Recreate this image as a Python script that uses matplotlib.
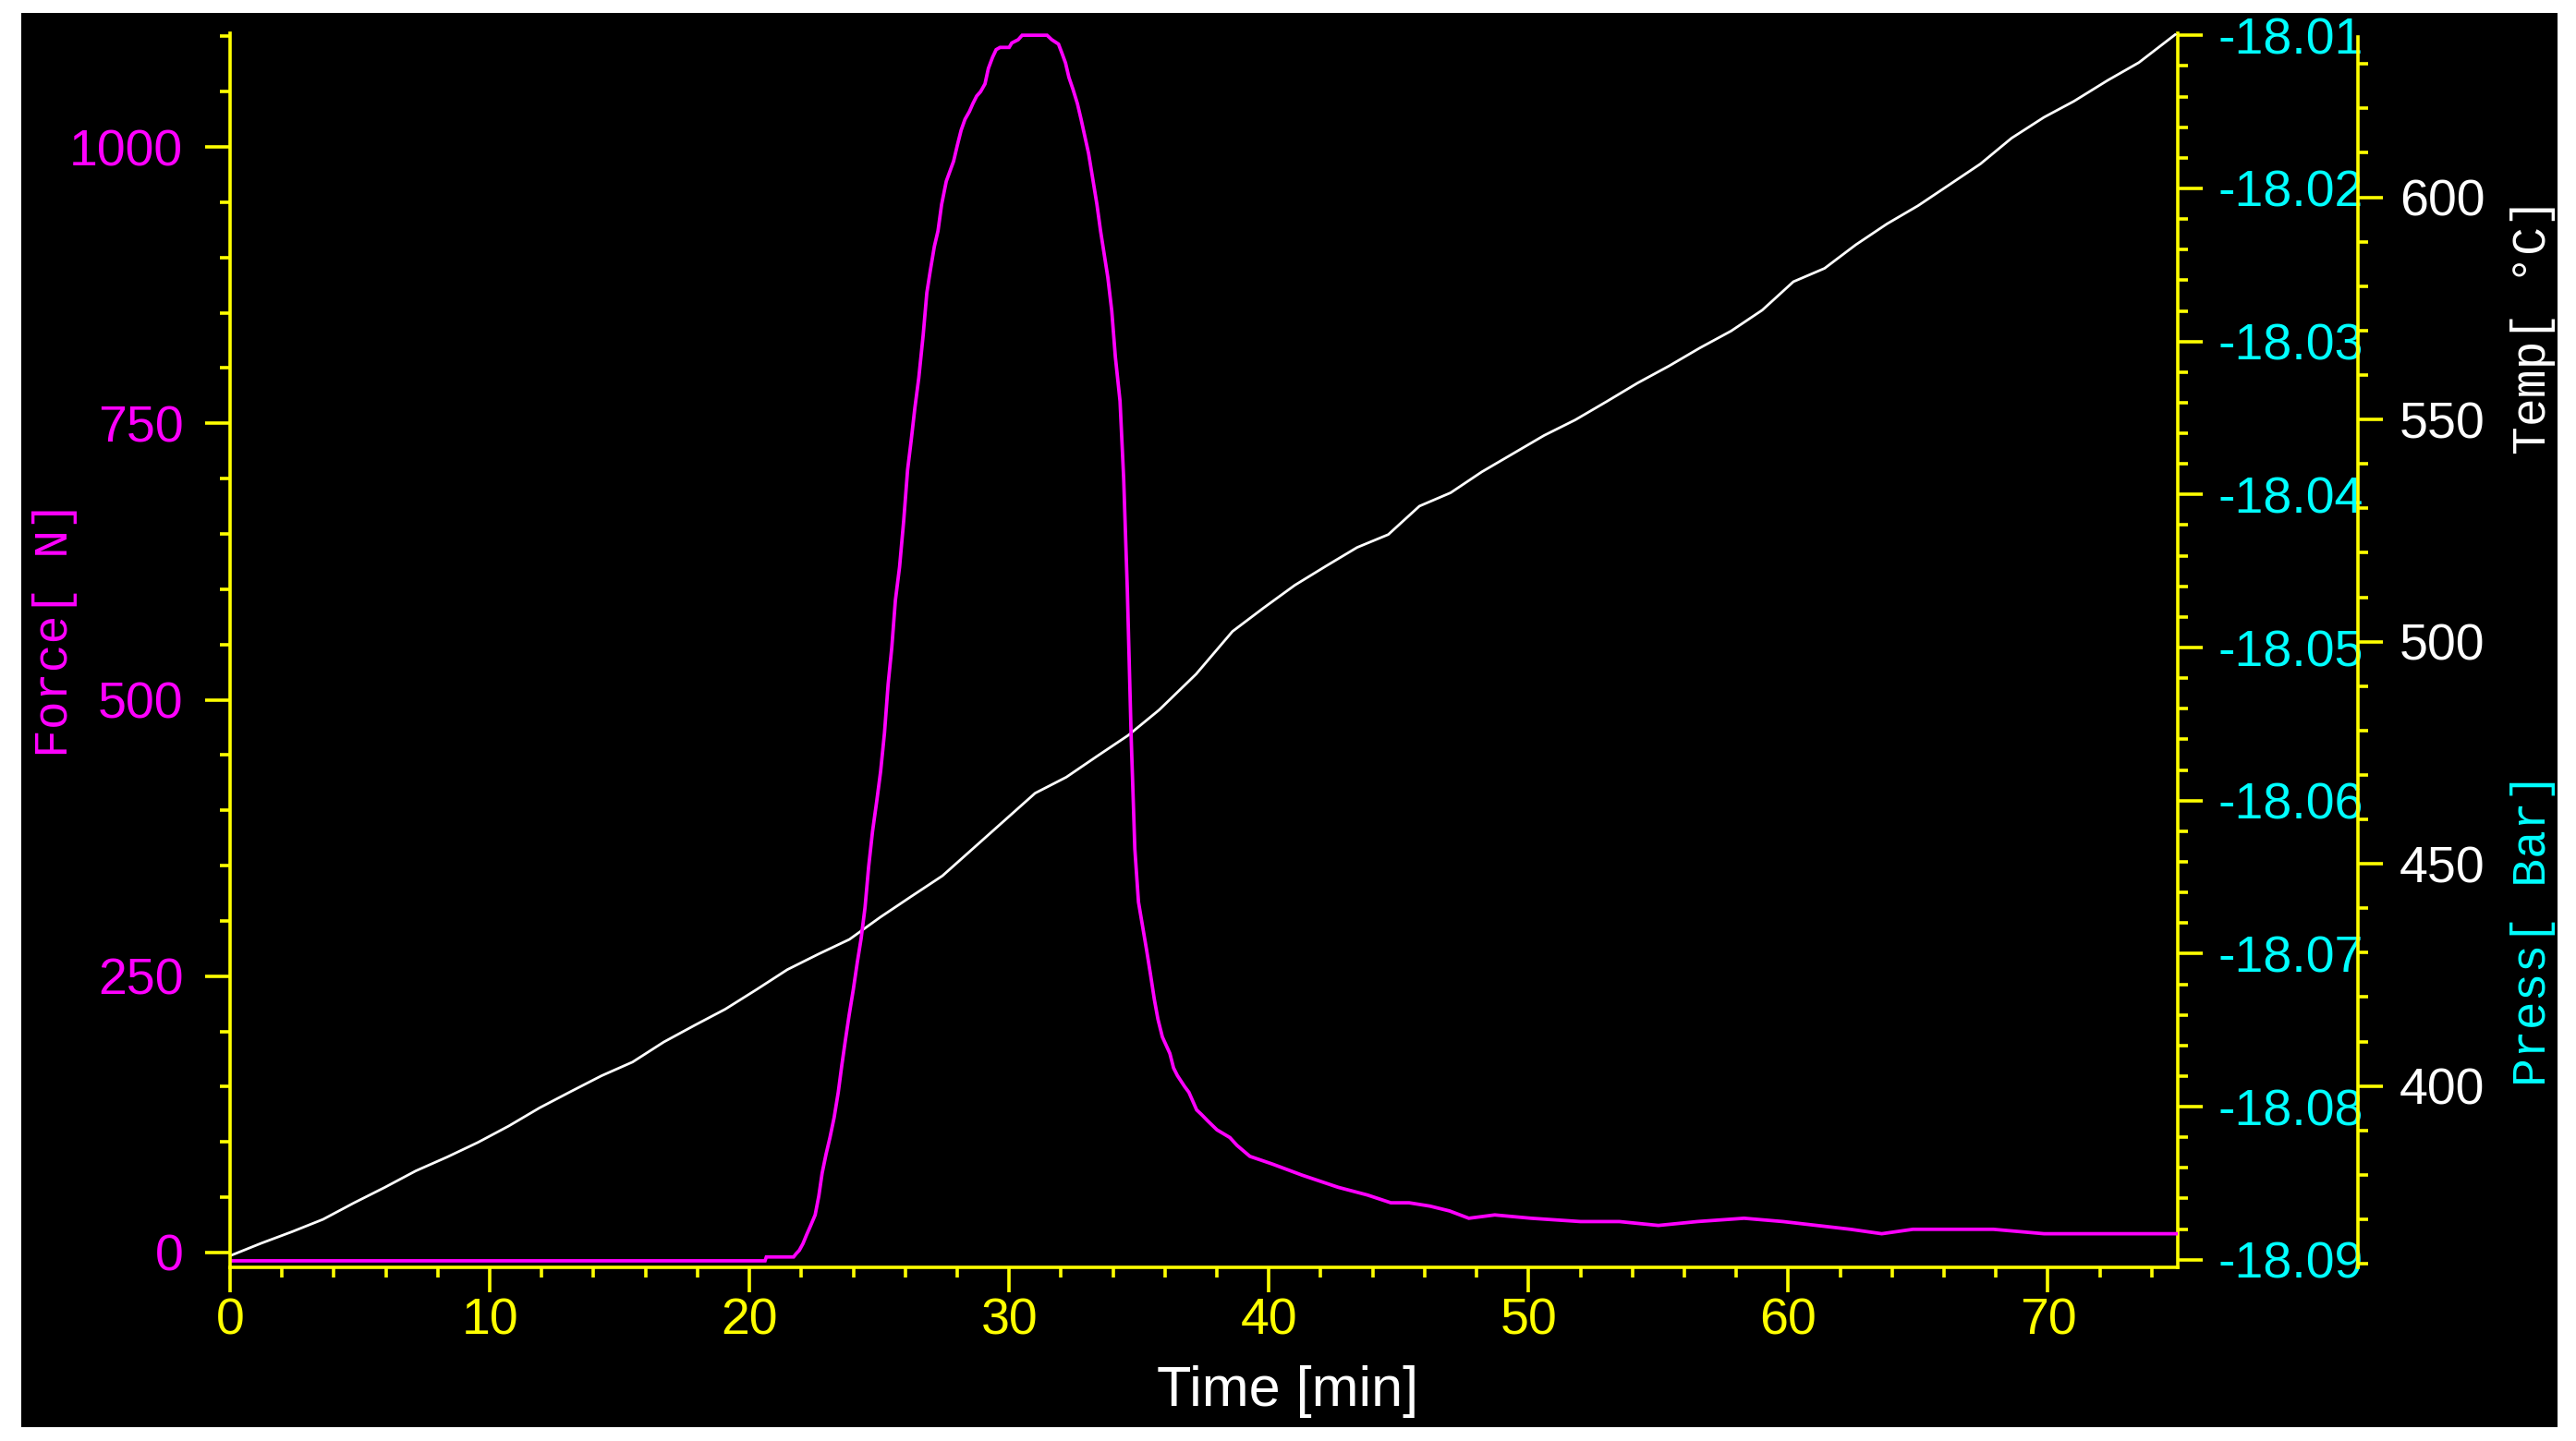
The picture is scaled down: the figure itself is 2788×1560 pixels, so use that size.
import matplotlib
matplotlib.use("Agg")
import matplotlib.pyplot as plt
from matplotlib import font_manager
from matplotlib.patches import Rectangle
from matplotlib.ticker import MultipleLocator, FormatStrFormatter

plt.rcParams['axes.unicode_minus'] = False

names = {f.name for f in font_manager.fontManager.ttflist}
tick_font = 'Liberation Sans Narrow' if 'Liberation Sans Narrow' in names else 'Liberation Sans'

# force curve, time [min] / force [N]
force_t = [0, 20.6, 20.65, 21.7, 21.8, 21.92, 22.06, 22.2, 22.35, 22.53, 22.67, 22.8,
           22.95, 23.1, 23.26, 23.42, 23.56, 23.7, 23.84, 24.0, 24.15, 24.3, 24.45, 24.59,
           24.74, 24.9, 25.05, 25.2, 25.34, 25.48, 25.62, 25.78, 25.94, 26.09, 26.23, 26.37,
           26.52, 26.69, 26.83, 26.97, 27.12, 27.26, 27.4, 27.58, 27.86, 28.0, 28.15, 28.3,
           28.47, 28.6, 28.75, 28.9, 29.07, 29.2, 29.36, 29.5, 29.65, 30.0, 30.1, 30.35,
           30.5, 31.46, 31.64, 31.9, 32.03, 32.17, 32.3, 32.46, 32.63, 32.77, 32.92, 33.06,
           33.2, 33.38, 33.52, 33.66, 33.8, 33.95, 34.09, 34.27, 34.41, 34.55, 34.7, 34.84,
           34.98, 35.14, 35.29, 35.44, 35.59, 35.73, 35.9, 36.19, 36.33, 36.48, 36.62, 36.76,
           36.92, 37.07, 37.22, 37.4, 37.65, 38.0, 38.5, 38.77, 39.27, 40.14, 41.28, 42.67,
           43.8, 44.7, 45.4, 46.2, 46.96, 47.7, 48.7, 50.1, 52.0, 53.5, 55.0, 56.5,
           58.3, 59.8, 61.1, 62.4, 63.6, 64.8, 67.9, 69.85, 75.0]
force_n = [-7.5, -7.5, -4, -4, -1, 2, 8, 16, 24, 34, 51, 72,
           89, 104, 122, 145, 170, 193, 215, 238, 262, 284, 312, 349,
           381, 408, 435, 470, 514, 547, 590, 620, 662, 708, 735, 764,
           791, 830, 868, 889, 910, 924, 948, 969, 987, 1001, 1015, 1025,
           1032, 1039, 1046, 1050, 1057, 1071, 1081, 1088, 1090, 1090, 1094, 1097,
           1101, 1101, 1097, 1093, 1085, 1076, 1063, 1052, 1039, 1025, 1009, 994,
           974, 948, 924, 903, 882, 852, 810, 770, 700, 600, 465, 365,
           317, 295, 274, 252, 229, 211, 195, 180, 167, 160, 155, 150,
           145, 137, 129, 125, 119, 111, 104, 97, 87, 80, 70, 59,
           52, 45, 45, 42, 37.6, 31, 34, 31, 28, 28, 24.5, 28,
           31, 28, 24.5, 21, 17, 21, 21, 17, 17]

# temperature curve, time [min] / temp [C]
temp_t = [0, 1.19, 2.38, 3.58, 4.77, 5.96, 7.15, 8.35, 9.54, 10.73, 11.92, 13.1,
          14.3, 15.5, 16.7, 17.9, 19.07, 20.27, 21.46, 22.66, 23.85, 25.04, 26.24, 27.43,
          28.62, 29.81, 31.0, 32.2, 33.38, 34.58, 35.77, 37.2, 38.6, 39.8, 41.0, 42.2,
          43.4, 44.6, 45.8, 47.0, 48.2, 49.4, 50.6, 51.8, 53.0, 54.2, 55.4, 56.6,
          57.8, 59.0, 60.2, 61.4, 62.6, 63.8, 65.0, 66.2, 67.4, 68.6, 69.85, 71.0,
          72.3, 73.5, 74.9]
temp_c = [361.8, 364.6, 367.2, 370.0, 373.7, 377.2, 380.9, 384.0, 387.3, 391.0, 395.1, 398.7,
          402.3, 405.4, 409.9, 413.7, 417.3, 421.7, 426.2, 429.7, 433.0, 438.0, 442.7, 447.3,
          453.5, 459.7, 465.9, 469.5, 474.2, 478.9, 484.6, 492.7, 502.3, 507.6, 512.7, 517.0,
          521.2, 524.1, 530.5, 533.5, 538.2, 542.3, 546.4, 549.9, 554.0, 558.2, 562.0, 566.1,
          569.9, 574.6, 581.0, 584.0, 589.3, 594.0, 598.1, 602.8, 607.5, 613.3, 618.0, 621.6,
          626.3, 630.3, 636.6]

time_ticks = [0, 10, 20, 30, 40, 50, 60, 70]
force_ticks = [0, 250, 500, 750, 1000]
press_ticks = [-18.09, -18.08, -18.07, -18.06, -18.05, -18.04, -18.03, -18.02, -18.01]
temp_ticks = [400, 450, 500, 550, 600]

YEL = '#FFFF00'
MAG = '#FF00FF'
CYA = '#00FFFF'
WHT = '#FFFFFF'

fig = plt.figure(figsize=(27.88, 15.6), dpi=100, facecolor='white')
fig.patches.append(Rectangle((23 / 2788, 15 / 1560), 2745 / 2788, 1531 / 1560,
                             transform=fig.transFigure, facecolor='black',
                             edgecolor='none', zorder=-10))

ax = fig.add_axes([249 / 2788, 1 - 1372 / 1560, 2108 / 2788, 1336 / 1560])
ax_p = ax.twinx()
ax_t = ax.twinx()
for a in (ax, ax_p, ax_t):
    a.patch.set_visible(False)
    for s in a.spines.values():
        s.set_visible(False)
        s.set_color(YEL)
        s.set_linewidth(2.6)
ax.set_zorder(ax_t.get_zorder() + 1)

# data
ax_t.plot(temp_t, temp_c, color=WHT, lw=2.0)
ax.plot(force_t, force_n, color=MAG, lw=2.7, solid_joinstyle='miter')

ax.set_xlim(0, 75)
ax.set_ylim(-13.4, 1102.8)
ax_p.set_ylim(-18.0905, -18.00986)
ax_t.set_ylim(359.2, 636.9)

# spines
ax.spines['left'].set_visible(True)
ax.spines['bottom'].set_visible(True)
ax_p.spines['right'].set_visible(True)
ax_t.spines['right'].set_visible(True)
ax_t.spines['right'].set_position(('axes', 1.0925))
ax_t.spines['right'].set_bounds(359.2, 636.1)

maj = dict(length=19.5, width=2.6, color=YEL, direction='out')
mnr = dict(length=8, width=2.6, color=YEL, direction='out')

ax.xaxis.set_major_locator(plt.FixedLocator(time_ticks))
ax.xaxis.set_minor_locator(MultipleLocator(2))
ax.yaxis.set_major_locator(plt.FixedLocator(force_ticks))
ax.yaxis.set_minor_locator(MultipleLocator(50))
ax_p.yaxis.set_major_locator(plt.FixedLocator(press_ticks))
ax_p.yaxis.set_minor_locator(MultipleLocator(0.002))
ax_p.yaxis.set_major_formatter(FormatStrFormatter('%.2f'))
ax_t.yaxis.set_major_locator(plt.FixedLocator(temp_ticks))
ax_t.yaxis.set_minor_locator(MultipleLocator(10))

ax.tick_params(axis='x', which='major', labelcolor=YEL, pad=4, labelsize=40, **maj)
ax.tick_params(axis='x', which='minor', **mnr)
ax.tick_params(axis='y', which='major', labelcolor=MAG, pad=17, labelsize=40, **maj)
ax.tick_params(axis='y', which='minor', **mnr)
ax_p.tick_params(axis='y', which='major', labelcolor=CYA, pad=12, labelsize=40, **maj)
ax_p.tick_params(axis='y', which='minor', **mnr)
ax_t.tick_params(axis='y', which='major', labelcolor=WHT, pad=13, labelsize=40, **maj)
ax_t.tick_params(axis='y', which='minor', **mnr)

for a in (ax, ax_p, ax_t):
    for lbl in a.get_xticklabels() + a.get_yticklabels():
        lbl.set_family(tick_font)

# axis titles
fig.text(0.5, 1 - 1522 / 1560, 'Time [min]', color=WHT, fontsize=44,
         family='Liberation Sans', ha='center', va='baseline')
fig.text(60 / 2788, 1 - 681 / 1560, 'Force[ N]', color=MAG, fontsize=37,
         family='Liberation Mono', rotation=90, ha='center', va='center')
fig.text(2741 / 2788, 1 - 353 / 1560, 'Temp[ °C]', color=WHT, fontsize=37,
         family='Liberation Mono', rotation=90, ha='center', va='center')
fig.text(2741 / 2788, 1 - 1006 / 1560, 'Press[ Bar]', color=CYA, fontsize=37,
         family='Liberation Mono', rotation=90, ha='center', va='center')

fig.savefig('out.png', dpi=100, facecolor='white')
